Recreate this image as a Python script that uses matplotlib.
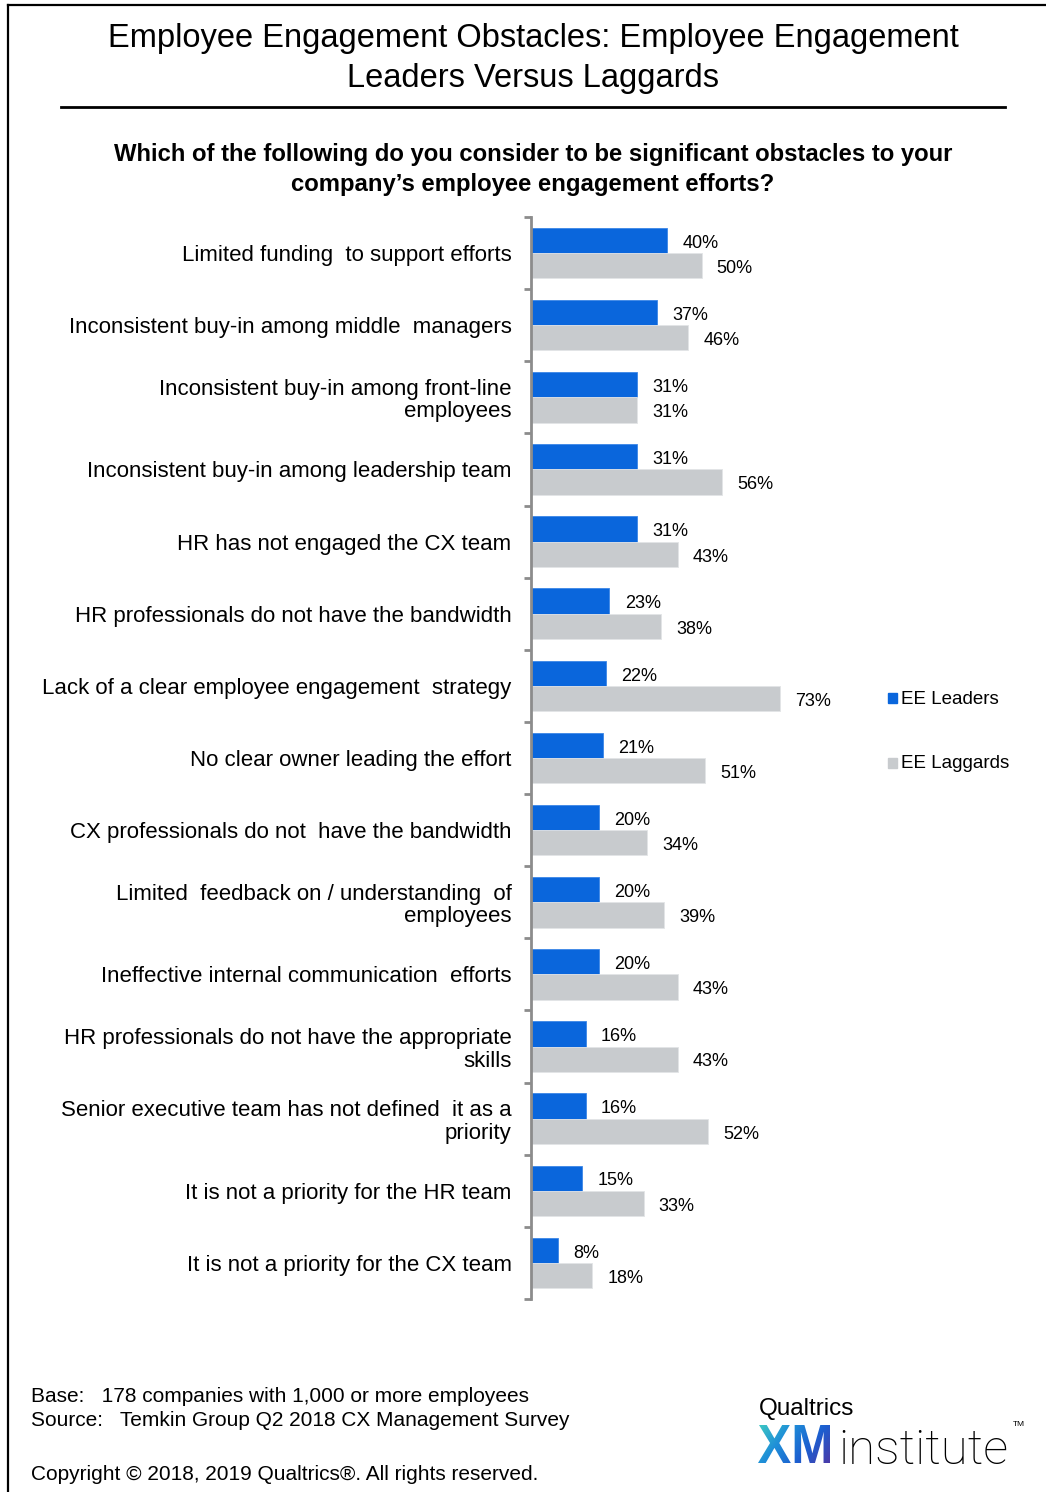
import numpy as np
import matplotlib
matplotlib.use("Agg")
import matplotlib.pyplot as plt
from matplotlib.patches import Rectangle, PathPatch
from matplotlib.lines import Line2D
from matplotlib.textpath import TextPath
from matplotlib.font_manager import FontProperties
from matplotlib.transforms import Affine2D
from matplotlib.colors import LinearSegmentedColormap

# ── Data ────────────────────────────────────────────────────────────────────
categories = [
    "Limited funding  to support efforts",
    "Inconsistent buy-in among middle  managers",
    "Inconsistent buy-in among front-line\nemployees",
    "Inconsistent buy-in among leadership team",
    "HR has not engaged the CX team",
    "HR professionals do not have the bandwidth",
    "Lack of a clear employee engagement  strategy",
    "No clear owner leading the effort",
    "CX professionals do not  have the bandwidth",
    "Limited  feedback on / understanding  of\nemployees",
    "Ineffective internal communication  efforts",
    "HR professionals do not have the appropriate\nskills",
    "Senior executive team has not defined  it as a\npriority",
    "It is not a priority for the HR team",
    "It is not a priority for the CX team",
]
leaders  = [40, 37, 31, 31, 31, 23, 22, 21, 20, 20, 20, 16, 16, 15, 8]
laggards = [50, 46, 31, 56, 43, 38, 73, 51, 34, 39, 43, 43, 52, 33, 18]
series_names = ["EE Leaders", "EE Laggards"]

C_LEAD = "#0A66DC"
C_LAG  = "#C8CBCE"
C_AXIS = "#8C8C8C"
FONT   = ["Liberation Sans", "DejaVu Sans"]

W, H = 1046, 1492
plt.rcParams["font.family"] = FONT

fig = plt.figure(figsize=(W / 100, H / 100), dpi=100)
fig.patch.set_facecolor("white")

# ── Bar chart ───────────────────────────────────────────────────────────────
ax_l, ax_r, ax_t, ax_b = 531, 850, 217, 1299
ax = fig.add_axes([ax_l / W, 1 - ax_b / H, (ax_r - ax_l) / W, (ax_b - ax_t) / H])
px_per_pct = 3.41
ax.set_xlim(0, (ax_r - ax_l) / px_per_pct)
n = len(categories)
ax.set_ylim(n - 0.5, -0.5)

y = np.arange(n)
h = 0.35
ax.barh(y - h / 2, leaders, h, color=C_LEAD, edgecolor="#3C86E6", linewidth=0.6)
ax.barh(y + h / 2, laggards, h, color=C_LAG, edgecolor="#E2E4E6", linewidth=0.6)

for i in range(n):
    ax.annotate(f"{leaders[i]}%", (leaders[i], y[i] - h / 2), xytext=(11, -2),
                textcoords="offset points", va="center", ha="left", fontsize=13)
    ax.annotate(f"{laggards[i]}%", (laggards[i], y[i] + h / 2), xytext=(11, -2),
                textcoords="offset points", va="center", ha="left", fontsize=13)

for s in ["top", "right", "bottom"]:
    ax.spines[s].set_visible(False)
ax.spines["left"].set_color(C_AXIS)
ax.spines["left"].set_linewidth(2)
ax.set_xticks([])
ax.set_yticks(y)
ax.set_yticklabels(categories, fontsize=16, linespacing=1.1)
ax.tick_params(axis="y", which="major", length=0, pad=14)
ax.set_yticks(np.arange(n + 1) - 0.5, minor=True)
ax.tick_params(axis="y", which="minor", length=5, width=2, color=C_AXIS)

# ── Overlay in pixel coordinates for titles, legend, footer, logo ──────────
bg = fig.add_axes([0, 0, 1, 1], zorder=5)
bg.set_xlim(0, W)
bg.set_ylim(H, 0)
bg.axis("off")
bg.patch.set_visible(False)

# frame on top and left
bg.add_line(Line2D([8, W], [5, 5], color="black", lw=1.6))
bg.add_line(Line2D([8, 8], [5, H], color="black", lw=1.6))

bg.text(533, 38, "Employee Engagement Obstacles: Employee Engagement",
        ha="center", va="center", fontsize=23.5)
bg.text(533, 78, "Leaders Versus Laggards",
        ha="center", va="center", fontsize=23.5)
bg.add_line(Line2D([61, 1005], [107, 107], color="black", lw=2))

bg.text(533, 155, "Which of the following do you consider to be significant obstacles to your",
        ha="center", va="center", fontsize=17.2, weight="bold")
bg.text(533, 184, "company\u2019s employee engagement efforts?",
        ha="center", va="center", fontsize=17.2, weight="bold")

# legend
for (yy, col, name) in [(698, C_LEAD, series_names[0]), (763, C_LAG, series_names[1])]:
    bg.add_patch(Rectangle((888, yy - 5), 9, 10, color=col))
    bg.text(901, yy + 1, name, ha="left", va="center", fontsize=13.5)

# footer
bg.text(31, 1397, "Base:   178 companies with 1,000 or more employees",
        ha="left", va="center", fontsize=15)
bg.text(31, 1421, "Source:   Temkin Group Q2 2018 CX Management Survey",
        ha="left", va="center", fontsize=15)
bg.text(31, 1474, "Copyright \u00a9 2018, 2019 Qualtrics\u00ae. All rights reserved.",
        ha="left", va="center", fontsize=15)

# logo
bg.text(759, 1409, "Qualtrics", ha="left", va="center", fontsize=17.5)
xm = TextPath((0, 0), "XM", size=50,
              prop=FontProperties(family="Liberation Sans", weight="bold"))
ext = xm.get_extents()
sx = 72 / ext.width
sy = 38 / ext.height
tr = Affine2D().translate(-ext.x0, -ext.y0).scale(sx, -sy).translate(758, 1463)
xm_patch = PathPatch(tr.transform_path(xm), facecolor="none", edgecolor="none")
bg.add_patch(xm_patch)
grad_cmap = LinearSegmentedColormap.from_list("xm", ["#3DC9C3", "#1F8FD8", "#1C5FD0", "#4B3AA8"])
gx, gy = np.meshgrid(np.linspace(0, 1, 200), np.linspace(0, 1, 80))
grad = 0.7 * gx + 0.3 * gy
img = bg.imshow(grad, cmap=grad_cmap, extent=(758, 830, 1463, 1425),
                aspect="auto", interpolation="bilinear", zorder=6)
img.set_clip_path(xm_patch)
bg.set_xlim(0, W)
bg.set_ylim(H, 0)
bg.text(838, 1464, "institute", ha="left", va="baseline", fontsize=35.5,
        family=["Roboto", "Liberation Sans"], weight="light")
bg.text(1013, 1425, "TM", ha="left", va="center", fontsize=6)

fig.savefig("out.png", dpi=100, facecolor="white")
